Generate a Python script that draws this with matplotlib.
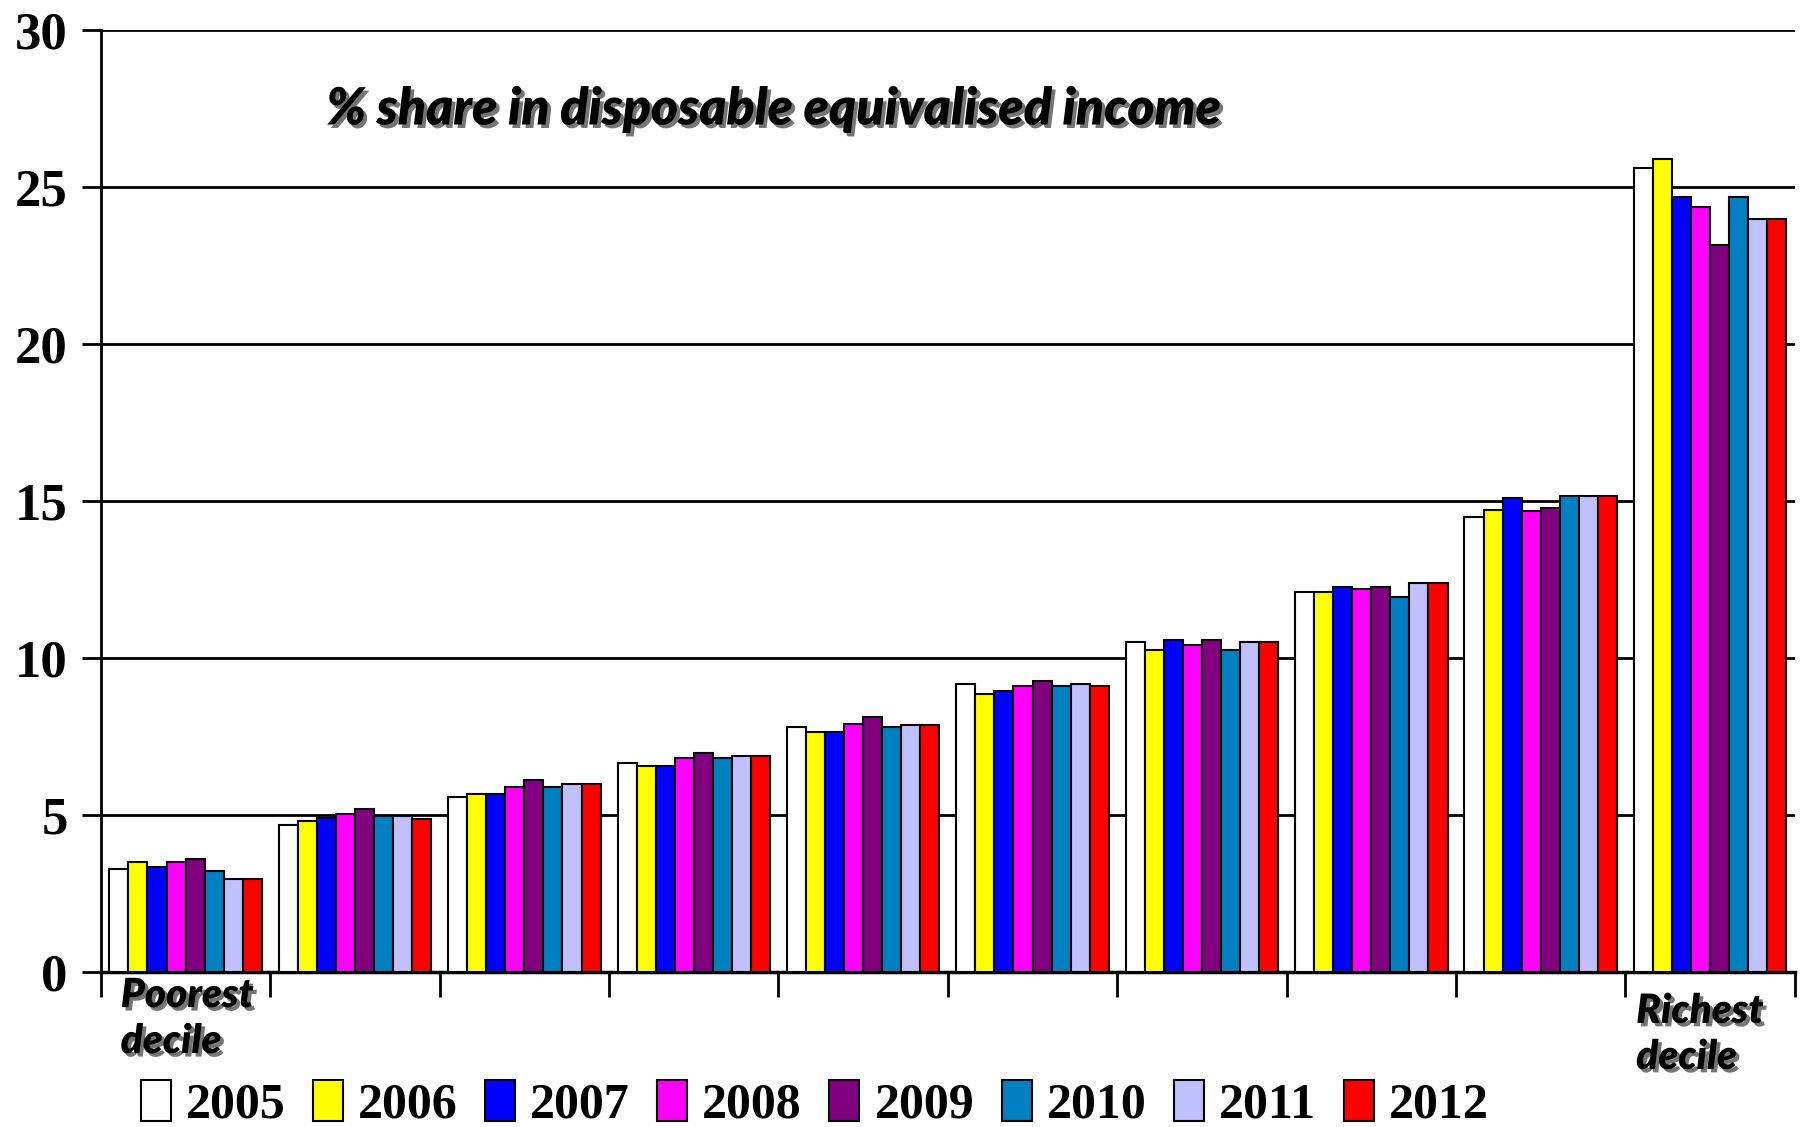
import matplotlib
matplotlib.use('Agg')
import matplotlib.pyplot as plt
import matplotlib.patheffects as pe
import numpy as np

years = ['2005', '2006', '2007', '2008', '2009', '2010', '2011', '2012']
colors = ['#FFFFFF', '#FFFF00', '#0000FF', '#FF00FF', '#800080', '#0080C0', '#C0C0FF', '#FF0000']

# one list per decile, values per year 2005..2012
d1 = [3.28, 3.51, 3.35, 3.51, 3.59, 3.21, 2.96, 2.96]
d2 = [4.67, 4.82, 4.90, 5.04, 5.20, 4.97, 4.97, 4.88]
d3 = [5.59, 5.67, 5.67, 5.89, 6.12, 5.89, 5.98, 5.98]
d4 = [6.67, 6.57, 6.58, 6.82, 6.97, 6.82, 6.88, 6.88]
d5 = [7.81, 7.65, 7.65, 7.89, 8.12, 7.81, 7.88, 7.88]
d6 = [9.18, 8.87, 8.96, 9.11, 9.27, 9.10, 9.17, 9.11]
d7 = [10.50, 10.27, 10.57, 10.41, 10.57, 10.27, 10.50, 10.50]
d8 = [12.10, 12.10, 12.27, 12.19, 12.27, 11.96, 12.40, 12.40]
d9 = [14.49, 14.71, 15.10, 14.69, 14.80, 15.17, 15.17, 15.17]
d10 = [25.61, 25.90, 24.68, 24.37, 23.15, 24.68, 23.99, 23.99]

deciles = np.array([d1, d2, d3, d4, d5, d6, d7, d8, d9, d10])

fig = plt.figure(figsize=(18.02, 11.27), dpi=100)
ax = fig.add_axes([0.056, 0.1375, 0.94, 0.8355])

n_groups = deciles.shape[0]
n_years = len(years)
bw = 0.9 / n_years
x = np.arange(n_groups)
for j in range(n_years):
    ax.bar(x - 0.45 + bw * (j + 0.5), deciles[:, j], width=bw, color=colors[j],
           edgecolor='black', linewidth=1.5, label=years[j], zorder=3)

ax.set_xlim(-0.5, n_groups - 0.5)
ax.set_ylim(0, 30)
ax.set_yticks([0, 5, 10, 15, 20, 25, 30])
ax.yaxis.grid(True, color='black', linewidth=2)
ax.set_axisbelow(True)
for s in ['top', 'right']:
    ax.spines[s].set_visible(False)
ax.spines['left'].set_linewidth(2)
ax.spines['bottom'].set_linewidth(2.5)

ax.set_xticks(np.arange(n_groups + 1) - 0.5)
ax.set_xticklabels([])
ax.tick_params(axis='x', length=18, width=2, direction='out')
ax.tick_params(axis='y', length=14, width=2, direction='out', pad=10)
for lab in ax.get_yticklabels():
    lab.set_fontfamily('Liberation Serif')
    lab.set_fontweight('bold')
    lab.set_fontsize(38)

shadow = [pe.withSimplePatchShadow(offset=(2.5, -2.5), shadow_rgbFace='#666666', alpha=0.9)]

ax.text(0.133, 0.916, '% share in disposable equivalised income', transform=ax.transAxes,
        fontsize=37, fontweight='heavy', style='italic', family='Lato',
        ha='left', va='center', path_effects=shadow)

fig.text(0.067, 0.133, 'Poorest\ndecile', fontsize=29, fontweight='heavy', style='italic',
         family='Lato', ha='left', va='top', linespacing=1.3, path_effects=shadow)
fig.text(0.908, 0.119, 'Richest\ndecile', fontsize=29, fontweight='heavy', style='italic',
         family='Lato', ha='left', va='top', linespacing=1.3, path_effects=shadow)

fig.legend(loc='center', bbox_to_anchor=(0.452, 0.02), ncol=8, frameon=False,
           prop={'family': 'Liberation Serif', 'weight': 'bold', 'size': 36},
           handlelength=0.6, handleheight=0.9, handletextpad=0.3, columnspacing=0.55)

fig.savefig('out.png', dpi=100)
